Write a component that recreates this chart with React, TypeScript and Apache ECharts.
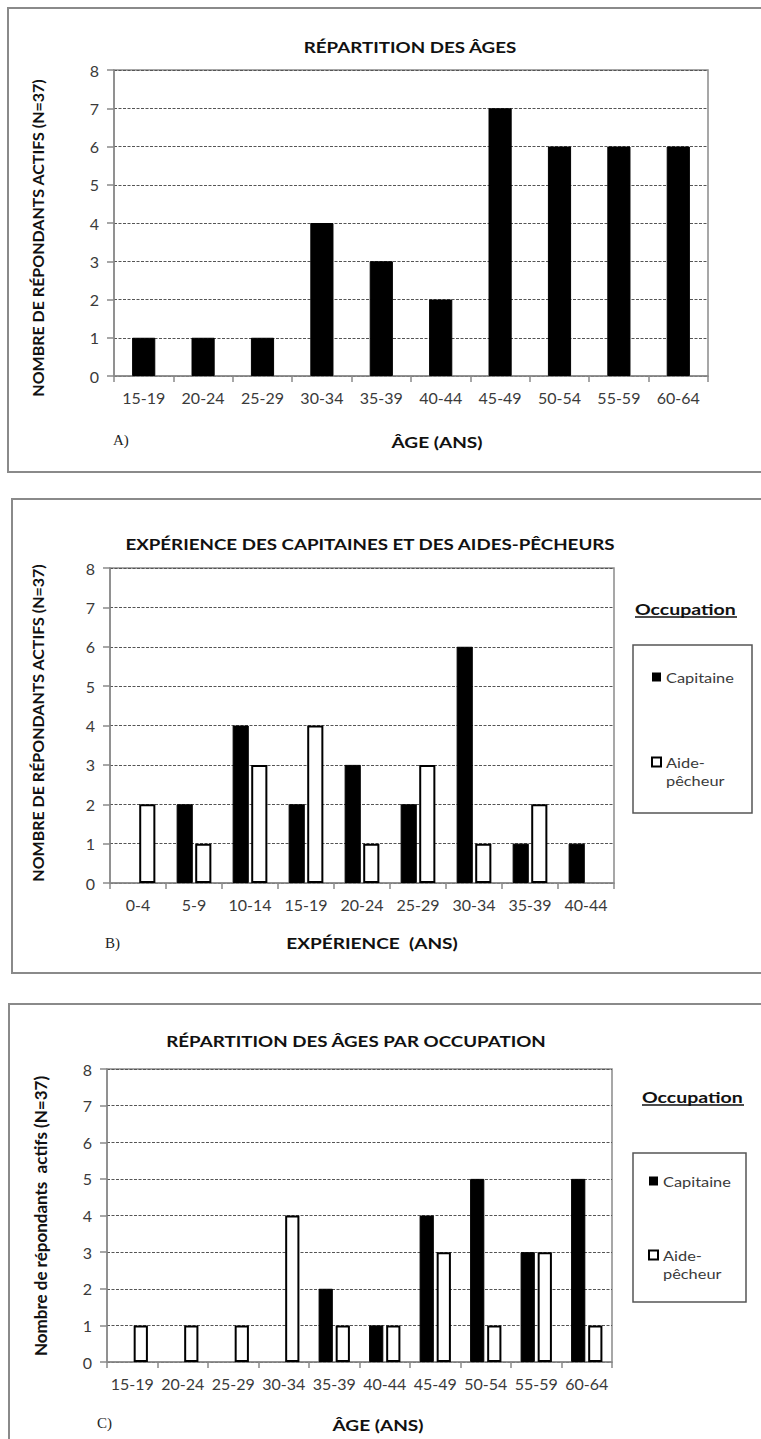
import React, { useEffect, useRef } from "react";
import * as echarts from "echarts";

const AGE_CATS = ["15-19", "20-24", "25-29", "30-34", "35-39", "40-44", "45-49", "50-54", "55-59", "60-64"];
const AGE_COUNTS = [1, 1, 1, 4, 3, 2, 7, 6, 6, 6];

const EXP_CATS = ["0-4", "5-9", "10-14", "15-19", "20-24", "25-29", "30-34", "35-39", "40-44"];
const EXP_CAPITAINE = [0, 2, 4, 2, 3, 2, 6, 1, 1];
const EXP_AIDE = [2, 1, 3, 4, 1, 3, 1, 2, 0];

const OCC_CAPITAINE = [0, 0, 0, 0, 2, 1, 4, 5, 3, 5];
const OCC_AIDE = [1, 1, 1, 4, 1, 1, 3, 1, 3, 1];

const Y_TICKS = [0, 1, 2, 3, 4, 5, 6, 7, 8];

const FONT = "Lato, 'Open Sans', sans-serif";
const TICK_COLOR = "#3a3a3a";
const AXIS_GRAY = "#8a8a8a";

const nz = (arr: number[]) => arr.map((v) => (v === 0 ? "-" : v));

function yAxis(gridIndex: number) {
  return {
    type: "value",
    gridIndex,
    min: Y_TICKS[0],
    max: Y_TICKS[Y_TICKS.length - 1],
    interval: 1,
    axisLine: { show: true, lineStyle: { color: AXIS_GRAY, width: 1.5 } },
    axisTick: { show: true, length: 7, lineStyle: { color: AXIS_GRAY, width: 1.5 } },
    axisLabel: { fontSize: 16, color: TICK_COLOR, fontFamily: FONT, margin: 15 },
    splitLine: { show: true, lineStyle: { color: "#555", width: 1, type: [3, 1.5] } },
  };
}

function xAxis(gridIndex: number, data: string[]) {
  return {
    type: "category",
    gridIndex,
    data,
    axisLine: { show: true, lineStyle: { color: AXIS_GRAY, width: 1.5 } },
    axisTick: { show: true, length: 6, alignWithLabel: false, lineStyle: { color: AXIS_GRAY, width: 1.5 } },
    axisLabel: { fontSize: 16, color: TICK_COLOR, fontFamily: FONT, margin: 13, interval: 0 },
    splitLine: { show: false },
  };
}

function txt(text: string, x: number, y: number, opts: any = {}) {
  return {
    type: "text",
    x,
    y,
    rotation: opts.rotation || 0,
    scaleX: opts.scaleX || 1,
    silent: true,
    style: {
      text,
      fill: opts.fill || "#111",
      font: `${opts.weight || "bold"} ${opts.size || 15}px ${opts.family || FONT}`,
      align: opts.align || "center",
      verticalAlign: "middle",
    },
  };
}

function legend(ox: number, oy: number, bx: number, by: number, bw: number, bh: number, capY: number, aideY: number, iconX: number, textX: number) {
  const lt = { align: "left", size: 14, weight: "normal", fill: TICK_COLOR, scaleX: 1.17 };
  return [
    txt("Occupation", ox, oy, { align: "left", size: 15, scaleX: 1.3 }),
    { type: "line", silent: true, shape: { x1: ox, y1: oy + 8, x2: ox + 102, y2: oy + 8 }, style: { stroke: "#111", lineWidth: 1.3 } },
    { type: "rect", silent: true, shape: { x: bx, y: by, width: bw, height: bh }, style: { fill: "#fff", stroke: "#555", lineWidth: 1.5 } },
    { type: "rect", silent: true, shape: { x: iconX, y: capY - 4.5, width: 9, height: 9 }, style: { fill: "#000" } },
    txt("Capitaine", textX, capY, lt),
    { type: "rect", silent: true, shape: { x: iconX, y: aideY - 4.5, width: 9, height: 9 }, style: { fill: "#fff", stroke: "#000", lineWidth: 2 } },
    txt("Aide-", textX, aideY, lt),
    txt("pêcheur", textX, aideY + 18, lt),
  ];
}

export default function App() {
  const ref = useRef<HTMLDivElement>(null);

  useEffect(() => {
    if (!ref.current) return;
    const chart = echarts.init(ref.current, null, { renderer: "svg" });

    const capStyle = { color: "#000", borderColor: "#000", borderWidth: 1 };
    const aideStyle = { color: "#fff", borderColor: "#000", borderWidth: 2 };
    const serif = { align: "left", size: 15, weight: "normal", family: "'Liberation Serif', serif", fill: "#222" };
    const titleOpts = { size: 15, scaleX: 1.25 };
    const nameOpts = { size: 15, scaleX: 1.27 };
    const yNameOpts = { rotation: Math.PI / 2, size: 16 };

    const option: any = {
      animation: false,
      backgroundColor: "#fff",
      textStyle: { fontFamily: FONT },
      grid: [
        { left: 114, top: 70, width: 594, height: 306, show: true, borderColor: AXIS_GRAY, borderWidth: 1.5, backgroundColor: "transparent" },
        { left: 110, top: 568, width: 504, height: 315, show: true, borderColor: AXIS_GRAY, borderWidth: 1.5, backgroundColor: "transparent" },
        { left: 107, top: 1069, width: 505, height: 293, show: true, borderColor: AXIS_GRAY, borderWidth: 1.5, backgroundColor: "transparent" },
      ],
      xAxis: [xAxis(0, AGE_CATS), xAxis(1, EXP_CATS), xAxis(2, AGE_CATS)],
      yAxis: [yAxis(0), yAxis(1), yAxis(2)],
      series: [
        { type: "bar", name: "Répondants", xAxisIndex: 0, yAxisIndex: 0, data: AGE_COUNTS, barCategoryGap: "61%", itemStyle: capStyle },
        { type: "bar", name: "Capitaine", xAxisIndex: 1, yAxisIndex: 1, data: nz(EXP_CAPITAINE), barCategoryGap: "38%", barGap: "15%", itemStyle: capStyle },
        { type: "bar", name: "Aide-pêcheur", xAxisIndex: 1, yAxisIndex: 1, data: nz(EXP_AIDE), barCategoryGap: "38%", barGap: "15%", itemStyle: aideStyle },
        { type: "bar", name: "Capitaine", xAxisIndex: 2, yAxisIndex: 2, data: nz(OCC_CAPITAINE), barCategoryGap: "38%", barGap: "20%", itemStyle: capStyle },
        { type: "bar", name: "Aide-pêcheur", xAxisIndex: 2, yAxisIndex: 2, data: nz(OCC_AIDE), barCategoryGap: "38%", barGap: "20%", itemStyle: aideStyle },
      ],
      graphic: [
        { type: "rect", silent: true, shape: { x: 8, y: 8, width: 800, height: 464 }, style: { fill: "none", stroke: AXIS_GRAY, lineWidth: 2 } },
        { type: "rect", silent: true, shape: { x: 12, y: 499, width: 800, height: 474 }, style: { fill: "none", stroke: AXIS_GRAY, lineWidth: 2 } },
        { type: "rect", silent: true, shape: { x: 9, y: 1004, width: 800, height: 500 }, style: { fill: "none", stroke: AXIS_GRAY, lineWidth: 2 } },

        txt("RÉPARTITION DES ÂGES", 410, 47, titleOpts),
        txt("EXPÉRIENCE DES CAPITAINES ET DES AIDES-PÊCHEURS", 370, 544, titleOpts),
        txt("RÉPARTITION DES ÂGES PAR OCCUPATION", 356, 1041, titleOpts),

        txt("NOMBRE DE RÉPONDANTS ACTIFS (N=37)", 37, 238, yNameOpts),
        txt("NOMBRE DE RÉPONDANTS ACTIFS (N=37)", 37, 723, yNameOpts),
        txt("Nombre de répondants  actifs (N=37)", 40, 1216, { rotation: Math.PI / 2, size: 17 }),

        txt("ÂGE (ANS)", 437, 442, nameOpts),
        txt("EXPÉRIENCE  (ANS)", 372, 943, nameOpts),
        txt("ÂGE (ANS)", 378, 1425, nameOpts),

        txt("A)", 113, 440, serif),
        txt("B)", 105, 943, serif),
        txt("C)", 97, 1423, serif),

        ...legend(635, 609, 633, 645, 119, 168, 677, 762, 652, 666),
        ...legend(642, 1097, 633, 1153, 113, 149, 1181, 1255, 649, 663),
      ],
    };

    chart.setOption(option);
    return () => chart.dispose();
  }, []);

  return (
    <div
      ref={ref}
      style={{ position: "absolute", left: 0, top: 0, width: 761, height: 1439, background: "#fff" }}
    />
  );
}
